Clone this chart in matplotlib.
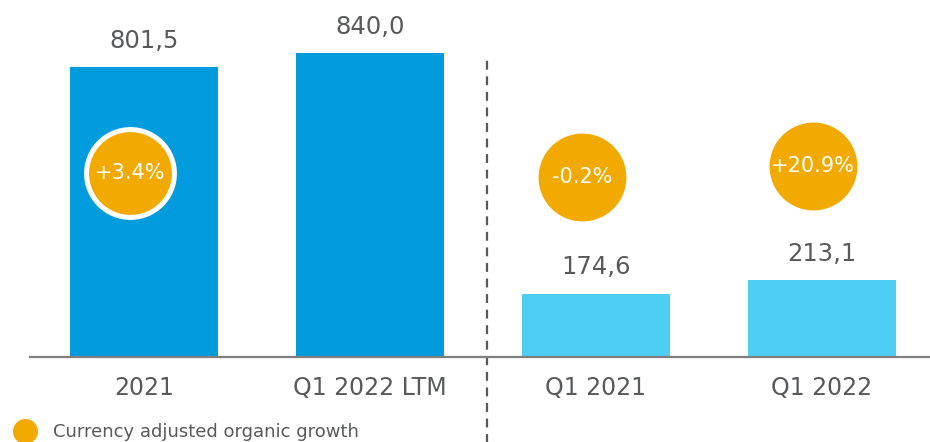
import matplotlib
matplotlib.use("Agg")
import matplotlib.pyplot as plt
from matplotlib.lines import Line2D

# data
categories = ["2021", "Q1 2022 LTM", "Q1 2021", "Q1 2022"]
values = [801.5, 840.0, 174.6, 213.1]
value_labels = ["801,5", "840,0", "174,6", "213,1"]
growth_labels = ["+3.4%", None, "-0.2%", "+20.9%"]
# where the growth bubbles sit (bar offset, height in value units)
growth_dx = [-0.06, 0, -0.06, -0.04]
growth_y = [510, 0, 497, 528]

dark_blue = "#009CDE"
light_blue = "#4FCEF3"
orange = "#F2A900"
grey_text = "#58595B"
bar_colors = [dark_blue, dark_blue, light_blue, light_blue]

plt.rcParams['font.family'] = ['DejaVu Sans']

fig = plt.figure(figsize=(9.3, 4.42), dpi=100)
ax = fig.add_axes([30 / 930, 85 / 442, 900 / 930, 357 / 442])

x = list(range(len(categories)))
ax.bar(x, values, width=0.655, color=bar_colors, zorder=2)

for xi, v, lab in zip(x, values, value_labels):
    ax.annotate(lab, (xi, v), xytext=(0, 19), textcoords='offset points',
                ha='center', va='center', fontsize=17.5, color=grey_text)

# growth bubbles
for xi, dx, gy, g in zip(x, growth_dx, growth_y, growth_labels):
    if g is None:
        continue
    edge = 'white' if xi == 0 else orange
    lw = 3.6 if xi == 0 else 0
    ax.scatter([xi + dx], [gy], s=4000, color=orange, edgecolors=edge,
               linewidths=lw, zorder=3)
    ax.text(xi + dx, gy, g, ha='center', va='center', fontsize=15,
            color='white', zorder=4)

ax.set_xlim(-0.504, 3.478)
ax.set_ylim(0, 987)

# separator between full year and quarters
ax.axvline(1.52, ymin=-0.3, ymax=0.84, color=grey_text, lw=1.6,
           linestyle=(0, (4, 3)), clip_on=False, zorder=1)

for s in ['top', 'right', 'left']:
    ax.spines[s].set_visible(False)
ax.spines['bottom'].set_color('#7F7F7F')
ax.spines['bottom'].set_linewidth(1.6)
ax.set_yticks([])
ax.set_xticks(x)
ax.set_xticklabels(categories, fontsize=17, color=grey_text)
ax.tick_params(axis='x', length=0, pad=14)

handle = Line2D([], [], marker='o', color='none', markerfacecolor=orange,
                markeredgecolor=orange, markersize=17)
fig.legend([handle], ["Currency adjusted organic growth"], loc='center left',
           bbox_to_anchor=(16 / 930, 1 - 432 / 442), frameon=False,
           fontsize=13, handlelength=1.0, handletextpad=1.05,
           borderpad=0, borderaxespad=0, labelcolor=grey_text)

fig.savefig("out.png", dpi=100)
